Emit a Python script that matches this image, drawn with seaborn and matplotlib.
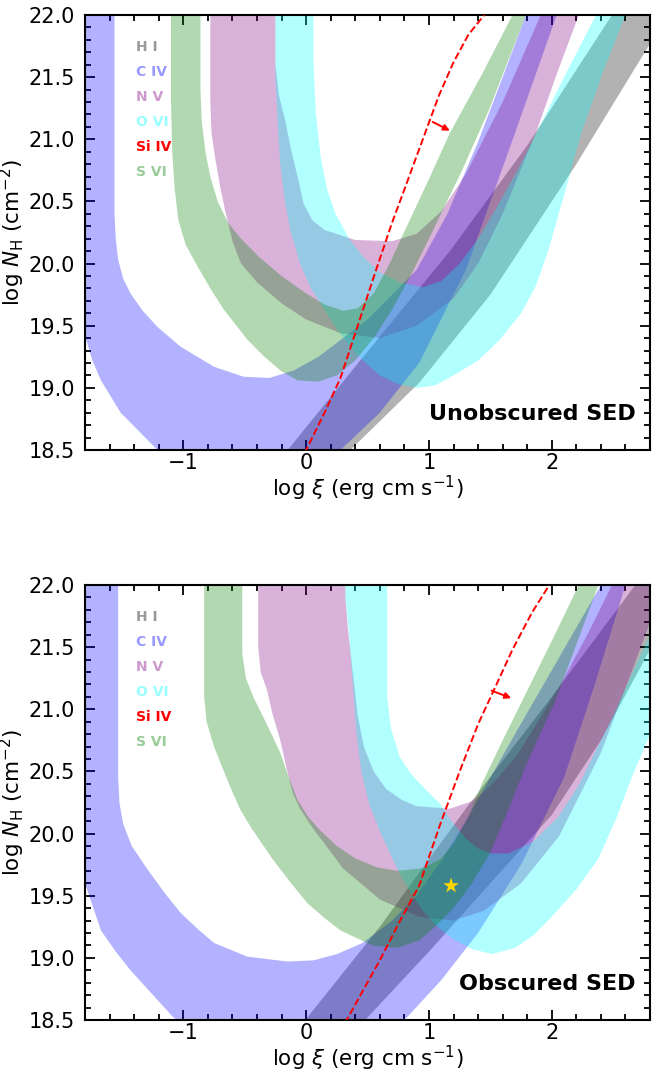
import matplotlib
matplotlib.use("Agg")
import matplotlib.pyplot as plt
from matplotlib.ticker import MultipleLocator, FormatStrFormatter
import seaborn as sns
import pandas as pd

# ---------------- data: top panel (unobscured SED) ----------------
HI_TOP_UPPER = [(-0.5, 18.1), (-0.15, 18.5), (0.44, 19.22), (1.17, 20.1), (1.8, 20.95), (2.49, 22.0), (2.7, 22.3)]
HI_TOP_LOWER = [(0.0, 17.95), (0.36, 18.5), (0.92, 19.04), (1.5, 19.75), (2.2, 20.8), (2.8, 21.77), (3.0, 22.1)]

CIV_TOP_OUTER = [(-1.92, 23.0), (-1.91, 21.5), (-1.89, 20.8), (-1.86, 20.2), (-1.83, 19.75), (-1.8, 19.42),
                 (-1.74, 19.22), (-1.67, 19.06), (-1.51, 18.8), (-1.21, 18.5), (-0.8, 18.18), (-0.4, 18.08),
                 (0.0, 18.2), (0.28, 18.5), (0.6, 18.8), (0.92, 19.2), (1.3, 19.95), (1.65, 20.91),
                 (2.04, 22.0), (2.3, 22.8)]
CIV_TOP_INNER = [(-1.56, 23.0), (-1.56, 20.4), (-1.55, 20.2), (-1.53, 20.03), (-1.49, 19.88), (-1.43, 19.76),
                 (-1.33, 19.62), (-1.21, 19.49), (-1.02, 19.33), (-0.75, 19.17), (-0.51, 19.09), (-0.3, 19.08),
                 (-0.1, 19.14), (0.1, 19.25), (0.5, 19.55), (0.9, 19.95), (1.15, 20.4), (1.4, 20.98),
                 (1.6, 21.5), (1.79, 22.0), (2.0, 22.6)]

NV_TOP_OUTER = [(-0.78, 23.0), (-0.78, 21.3), (-0.77, 21.05), (-0.74, 20.85), (-0.7, 20.62), (-0.66, 20.43),
                (-0.6, 20.18), (-0.53, 20.0), (-0.4, 19.85), (-0.2, 19.68), (0.0, 19.55), (0.28, 19.44),
                (0.6, 19.4), (0.9, 19.5), (1.2, 19.72), (1.4, 20.0), (1.6, 20.4), (1.87, 21.05),
                (2.05, 21.55), (2.22, 22.0), (2.4, 22.5)]
NV_TOP_INNER = [(-0.25, 23.0), (-0.25, 21.6), (-0.22, 21.35), (-0.17, 21.15), (-0.13, 20.95), (-0.07, 20.7),
                (-0.02, 20.48), (0.05, 20.35), (0.15, 20.27), (0.4, 20.19), (0.7, 20.18), (0.9, 20.24),
                (1.1, 20.42), (1.3, 20.72), (1.6, 21.3), (1.91, 22.0), (2.1, 22.4)]

OVI_TOP_OUTER = [(-0.25, 23.0), (-0.25, 21.5), (-0.23, 21.1), (-0.21, 20.8), (-0.18, 20.55), (-0.13, 20.27),
                 (-0.05, 20.0), (0.04, 19.8), (0.11, 19.69), (0.25, 19.47), (0.44, 19.24), (0.6, 19.1),
                 (0.75, 19.03), (0.9, 19.0), (1.05, 19.02), (1.2, 19.1), (1.4, 19.22), (1.57, 19.38),
                 (1.75, 19.6), (1.87, 19.82), (1.97, 20.1), (2.1, 20.55), (2.24, 21.05), (2.42, 21.55),
                 (2.6, 22.0), (2.75, 22.5)]
OVI_TOP_INNER = [(0.06, 23.0), (0.06, 21.6), (0.08, 21.2), (0.12, 20.85), (0.17, 20.6), (0.24, 20.4),
                 (0.35, 20.2), (0.47, 20.05), (0.6, 19.93), (0.76, 19.85), (0.95, 19.81), (1.1, 19.86),
                 (1.25, 20.0), (1.4, 20.2), (1.55, 20.45), (1.72, 20.75), (1.9, 21.1), (2.1, 21.5),
                 (2.36, 22.0), (2.55, 22.4)]

SVI_TOP_OUTER = [(-1.1, 23.0), (-1.1, 21.3), (-1.09, 20.9), (-1.07, 20.6), (-1.04, 20.35), (-0.98, 20.15),
                 (-0.88, 19.97), (-0.78, 19.8), (-0.67, 19.63), (-0.48, 19.39), (-0.34, 19.25), (-0.21, 19.14),
                 (-0.07, 19.06), (0.1, 19.05), (0.25, 19.1), (0.4, 19.22), (0.55, 19.4), (0.7, 19.63),
                 (0.85, 19.9), (1.0, 20.2), (1.27, 20.75), (1.49, 21.24), (1.79, 22.0), (1.95, 22.4)]
SVI_TOP_INNER = [(-0.86, 23.0), (-0.86, 21.4), (-0.85, 21.15), (-0.82, 20.9), (-0.78, 20.7), (-0.72, 20.5),
                 (-0.63, 20.32), (-0.53, 20.2), (-0.38, 20.05), (-0.2, 19.9), (0.0, 19.76), (0.15, 19.67),
                 (0.3, 19.62), (0.42, 19.64), (0.55, 19.76), (0.68, 20.0), (0.82, 20.3), (1.0, 20.68),
                 (1.17, 21.05), (1.43, 21.52), (1.68, 22.0), (1.85, 22.4)]

SIIV_TOP_X = [-0.05, 0.0, 0.15, 0.28, 0.42, 0.57, 0.7, 0.82, 0.95, 1.08, 1.2, 1.32, 1.45]
SIIV_TOP_Y = [18.4, 18.5, 18.8, 19.08, 19.5, 19.95, 20.33, 20.65, 21.0, 21.35, 21.62, 21.84, 22.0]
ARROW_TOP = [(1.03, 21.14), (1.17, 21.07)]

# ---------------- data: bottom panel (obscured SED) ----------------
HI_BOT_UPPER = [(-0.3, 18.1), (0.01, 18.52), (0.6, 19.25), (1.3, 20.2), (2.0, 21.1), (2.68, 22.0), (2.9, 22.3)]
HI_BOT_LOWER = [(0.1, 18.0), (0.5, 18.52), (1.0, 19.05), (1.5, 19.6), (2.0, 20.15), (2.4, 20.75),
                (2.8, 21.48), (3.0, 21.85)]

CIV_BOT_OUTER = [(-1.95, 23.0), (-1.94, 21.5), (-1.92, 20.8), (-1.88, 20.2), (-1.83, 19.8), (-1.79, 19.57),
                 (-1.67, 19.22), (-1.55, 19.05), (-1.43, 18.9), (-1.08, 18.52), (-0.7, 18.25), (-0.2, 18.1),
                 (0.3, 18.2), (0.82, 18.52), (1.1, 18.82), (1.4, 19.2), (1.75, 19.75), (2.1, 20.45),
                 (2.35, 21.2), (2.6, 22.0), (2.8, 22.5)]
CIV_BOT_INNER = [(-1.53, 23.0), (-1.53, 20.45), (-1.52, 20.25), (-1.49, 20.08), (-1.42, 19.9), (-1.29, 19.71),
                 (-1.15, 19.52), (-1.02, 19.36), (-0.88, 19.23), (-0.75, 19.12), (-0.48, 19.01), (-0.15, 18.97),
                 (0.06, 18.98), (0.25, 19.03), (0.46, 19.12), (0.7, 19.3), (0.9, 19.5), (1.1, 19.78),
                 (1.3, 20.1), (1.7, 20.8), (2.05, 21.4), (2.4, 22.0), (2.6, 22.4)]

NV_BOT_OUTER = [(-0.39, 23.0), (-0.39, 21.5), (-0.37, 21.3), (-0.32, 21.16), (-0.27, 20.95), (-0.21, 20.75),
                (-0.16, 20.53), (-0.11, 20.33), (-0.05, 20.2), (0.05, 20.05), (0.3, 19.72), (0.6, 19.47),
                (0.92, 19.33), (1.2, 19.3), (1.45, 19.38), (1.75, 19.6), (2.06, 19.98), (2.4, 20.65),
                (2.65, 21.3), (2.8, 21.7), (2.95, 22.2)]
NV_BOT_INNER = [(0.32, 23.0), (0.32, 21.9), (0.34, 21.65), (0.38, 21.3), (0.42, 20.95), (0.47, 20.7),
                (0.55, 20.5), (0.65, 20.36), (0.78, 20.27), (0.9, 20.22), (1.17, 20.2), (1.35, 20.26),
                (1.5, 20.38), (1.71, 20.62), (1.9, 20.92), (2.1, 21.25), (2.3, 21.62), (2.49, 22.0), (2.6, 22.3)]

OVI_BOT_OUTER = [(0.32, 23.0), (0.32, 21.9), (0.35, 21.6), (0.38, 21.2), (0.41, 20.8), (0.45, 20.5),
                 (0.51, 20.25), (0.6, 20.02), (0.74, 19.72), (0.85, 19.53), (0.95, 19.38), (1.08, 19.24),
                 (1.2, 19.15), (1.35, 19.07), (1.51, 19.03), (1.7, 19.08), (1.85, 19.18), (1.98, 19.31),
                 (2.2, 19.55), (2.38, 19.8), (2.52, 20.11), (2.65, 20.45), (2.8, 20.8), (3.0, 21.3)]
OVI_BOT_INNER = [(0.66, 23.0), (0.66, 21.1), (0.69, 20.85), (0.76, 20.62), (0.84, 20.5), (0.9, 20.43),
                 (1.0, 20.33), (1.09, 20.24), (1.2, 20.08), (1.3, 19.96), (1.4, 19.88), (1.51, 19.84),
                 (1.65, 19.84), (1.84, 19.93), (2.05, 20.13), (2.22, 20.39), (2.5, 20.95), (2.8, 21.6),
                 (2.95, 22.0)]

SVI_BOT_OUTER = [(-0.83, 23.0), (-0.83, 21.1), (-0.81, 20.9), (-0.75, 20.7), (-0.69, 20.55), (-0.62, 20.38),
                 (-0.54, 20.2), (-0.45, 20.05), (-0.27, 19.79), (-0.13, 19.61), (0.01, 19.44), (0.15, 19.32),
                 (0.28, 19.22), (0.54, 19.1), (0.74, 19.08), (0.92, 19.14), (1.05, 19.25), (1.2, 19.4),
                 (1.35, 19.6), (1.5, 19.85), (1.65, 20.2), (1.79, 20.55), (2.03, 21.07), (2.38, 22.0),
                 (2.5, 22.35)]
SVI_BOT_INNER = [(-0.52, 23.0), (-0.52, 21.45), (-0.49, 21.25), (-0.43, 21.1), (-0.32, 20.88), (-0.21, 20.65),
                 (-0.14, 20.45), (-0.07, 20.27), (0.02, 20.13), (0.11, 20.03), (0.25, 19.9), (0.4, 19.8),
                 (0.57, 19.73), (0.74, 19.7), (0.95, 19.72), (1.1, 19.8), (1.2, 19.92), (1.32, 20.13),
                 (1.43, 20.4), (1.6, 20.75), (1.76, 21.07), (2.0, 21.55), (2.22, 22.0), (2.35, 22.3)]

SIIV_BOT_X = [0.28, 0.33, 0.6, 0.76, 0.92, 1.09, 1.25, 1.4, 1.55, 1.68, 1.84, 1.98]
SIIV_BOT_Y = [18.4, 18.5, 18.98, 19.29, 19.58, 20.07, 20.5, 20.88, 21.2, 21.48, 21.78, 22.0]
ARROW_BOT = [(1.51, 21.15), (1.67, 21.09)]
STAR_X = [1.18]
STAR_Y = [19.58]

ION_LABELS = ["H I", "C IV", "N V", "O VI", "Si IV", "S VI"]
ION_COLORS = ["black", "blue", "purple", "cyan", "red", "green"]
PANEL_TITLES = ["Unobscured SED", "Obscured SED"]

# ---------------- plotting ----------------
sns.set_theme(style="ticks")
plt.rcParams["font.family"] = ["DejaVu Sans"]
plt.rcParams["mathtext.fontset"] = "dejavusans"
for key in ["text.color", "axes.labelcolor", "xtick.color", "ytick.color", "axes.edgecolor"]:
    plt.rcParams[key] = "black"

fig = plt.figure(figsize=(6.52, 10.74), dpi=100)
ax_top = fig.add_axes([0.1304, 0.5810, 0.8666, 0.4050])
ax_bot = fig.add_axes([0.1304, 0.0503, 0.8666, 0.4050])


def band(ax, outer, inner, color):
    ox = [p[0] for p in outer]
    oy = [p[1] for p in outer]
    ix = [p[0] for p in inner][::-1]
    iy = [p[1] for p in inner][::-1]
    ax.fill(ox + ix, oy + iy, color=color, alpha=0.3, lw=0, zorder=1)


panels = [
    (ax_top, [(HI_TOP_UPPER, HI_TOP_LOWER, "black"), (CIV_TOP_OUTER, CIV_TOP_INNER, "blue"),
              (NV_TOP_OUTER, NV_TOP_INNER, "purple"), (OVI_TOP_OUTER, OVI_TOP_INNER, "cyan"),
              (SVI_TOP_OUTER, SVI_TOP_INNER, "green")],
     SIIV_TOP_X, SIIV_TOP_Y, ARROW_TOP, PANEL_TITLES[0]),
    (ax_bot, [(HI_BOT_UPPER, HI_BOT_LOWER, "black"), (CIV_BOT_OUTER, CIV_BOT_INNER, "blue"),
              (NV_BOT_OUTER, NV_BOT_INNER, "purple"), (OVI_BOT_OUTER, OVI_BOT_INNER, "cyan"),
              (SVI_BOT_OUTER, SVI_BOT_INNER, "green")],
     SIIV_BOT_X, SIIV_BOT_Y, ARROW_BOT, PANEL_TITLES[1]),
]

for ax, bands, sx, sy, arrow, title in panels:
    for outer, inner, col in bands:
        band(ax, outer, inner, col)
    df = pd.DataFrame({"x": sx, "y": sy})
    sns.lineplot(data=df, x="x", y="y", ax=ax, color="red", linestyle="--", lw=1.4,
                 sort=False, estimator=None, zorder=3)
    ax.annotate("", xy=arrow[1], xytext=arrow[0],
                arrowprops=dict(arrowstyle="-|>", color="red", lw=1.4, mutation_scale=9,
                                shrinkA=0, shrinkB=0), zorder=4)
    for i, (lab, col) in enumerate(zip(ION_LABELS, ION_COLORS)):
        ax.text(-1.385, 21.74 - 0.2 * i, lab, color=col, alpha=1.0 if lab == "Si IV" else 0.4,
                fontsize=10, fontweight="bold", va="center", ha="left", zorder=5)
    ax.text(2.685, 18.74, title, fontsize=16, fontweight="bold", ha="right", va="baseline", zorder=5)

    ax.set_xlim(-1.8, 2.8)
    ax.set_ylim(18.5, 22.0)
    ax.xaxis.set_major_locator(MultipleLocator(1))
    ax.xaxis.set_minor_locator(MultipleLocator(0.2))
    ax.yaxis.set_major_locator(MultipleLocator(0.5))
    ax.yaxis.set_minor_locator(MultipleLocator(0.1))
    ax.yaxis.set_major_formatter(FormatStrFormatter("%.1f"))
    ax.tick_params(which="both", direction="in", top=True, right=True, width=1.3, labelsize=15)
    ax.tick_params(which="major", length=7)
    ax.tick_params(axis="x", which="major", pad=2)
    ax.tick_params(axis="y", which="major", pad=7)
    ax.tick_params(which="minor", length=4)
    for sp in ax.spines.values():
        sp.set_linewidth(1.5)
    ax.set_xlabel(r"log $\xi$ (erg cm s$^{-1}$)", fontsize=15.5, labelpad=1)
    ax.set_ylabel(r"log $N_{\rm H}$ (cm$^{-2}$)", fontsize=15.5, labelpad=1)
    ax.set_facecolor("white")
    ax.grid(False)

sns.scatterplot(x=STAR_X, y=STAR_Y, ax=ax_bot, marker="*", s=140, color="gold", edgecolor="none", zorder=6)

fig.savefig("out.png", dpi=100, facecolor="white")
